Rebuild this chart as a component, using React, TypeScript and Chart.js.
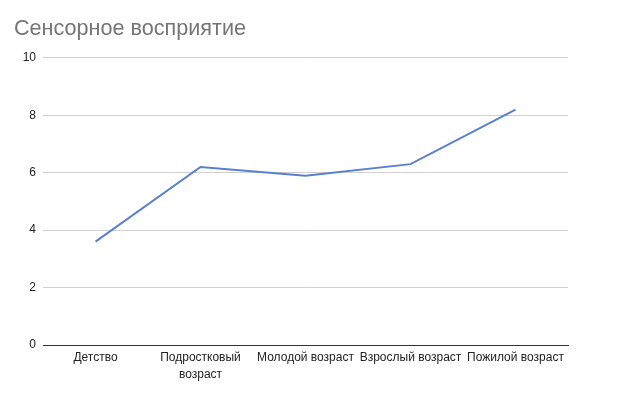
import React, { useEffect, useRef } from "react";
import { Chart, registerables } from "chart.js";

Chart.register(...registerables);

const TITLE = "Сенсорное восприятие";
const CATEGORIES: (string | string[])[] = [
  "Детство",
  ["Подростковый", "возраст"],
  "Молодой возраст",
  "Взрослый возраст",
  "Пожилой возраст",
];
const VALUES = [3.6, 6.2, 5.9, 6.3, 8.2];
const Y_MIN = 0;
const Y_MAX = 10;
const Y_STEP = 2;

const FONT = "'Liberation Sans', Arial, sans-serif";

export default function App() {
  const ref = useRef<HTMLCanvasElement | null>(null);
  useEffect(() => {
    if (!ref.current) return;
    const chart = new Chart(ref.current, {
      type: "line",
      data: {
        labels: CATEGORIES,
        datasets: [
          {
            data: VALUES,
            borderColor: "#5a7fcf",
            backgroundColor: "#5a7fcf",
            borderWidth: 2,
            pointRadius: 0,
            tension: 0,
          },
        ],
      },
      options: {
        responsive: false,
        animation: false,
        layout: { padding: { left: 14, right: 72, top: 0, bottom: 0 } },
        plugins: {
          legend: { display: false },
          tooltip: { enabled: false },
          title: {
            display: true,
            text: TITLE,
            align: "start",
            color: "#757575",
            font: { family: FONT, size: 21.6, weight: "normal" },
            padding: { top: 16, bottom: 16 },
          },
        },
        scales: {
          x: {
            offset: true,
            grid: { display: false, drawTicks: false },
            border: { display: true, color: "#333333", width: 1 },
            ticks: {
              color: "#222222",
              font: { family: FONT, size: 12, lineHeight: 1.35 },
              maxRotation: 0,
              autoSkip: false,
              padding: 5,
            },
            afterFit: (s: any) => {
              s.height = 48;
            },
          },
          y: {
            min: Y_MIN,
            max: Y_MAX,
            border: { display: false },
            grid: {
              color: (c: any) => (c.tick && c.tick.value === 0 ? "#333333" : "#d0d0d0"),
              drawTicks: false,
            },
            ticks: {
              stepSize: Y_STEP,
              color: "#222222",
              font: { family: FONT, size: 12 },
              padding: 7,
            },
            afterFit: (s: any) => {
              s.width = 29;
            },
          },
        },
      },
    });
    return () => chart.destroy();
  }, []);
  return (
    <div style={{ position: "fixed", left: 0, top: 0, width: 640, height: 393, background: "#fff" }}>
      <canvas ref={ref} width={640} height={393} />
    </div>
  );
}
